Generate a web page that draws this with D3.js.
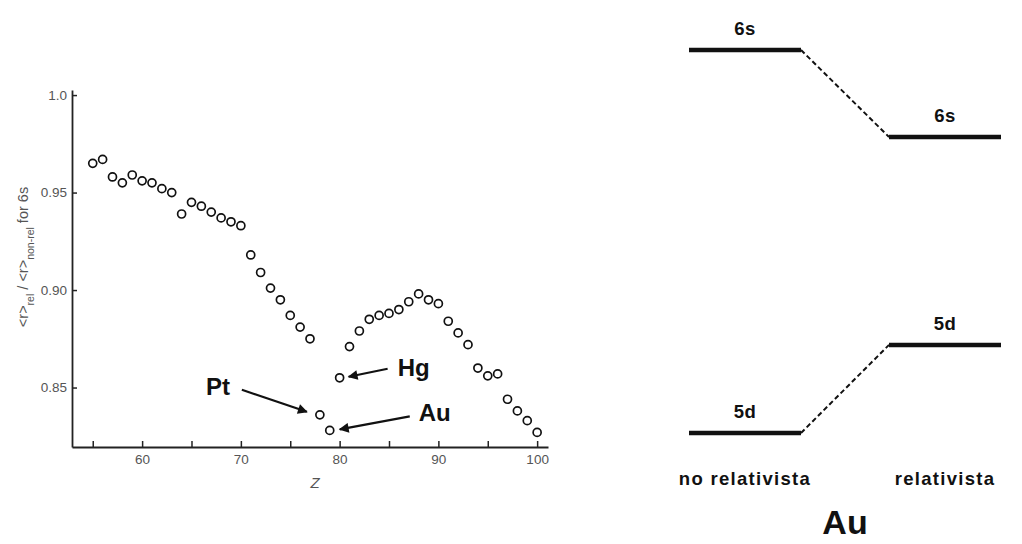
<!DOCTYPE html>
<html>
<head>
<meta charset="utf-8">
<script src="https://cdn.jsdelivr.net/npm/d3@7"></script>
<style>
  body { margin: 0; background: #fff; }
  svg { display: block; font-family: "Liberation Sans", Arial, Helvetica, sans-serif; }
</style>
</head>
<body>
<svg width="1022" height="544"></svg>
<script>
// atomic number Z (Cs .. Fm)
let zValues = [55, 56, 57, 58, 59, 60, 61, 62, 63, 64, 65, 66, 67, 68, 69, 70,
               71, 72, 73, 74, 75, 76, 77, 78, 79, 80, 81, 82, 83, 84, 85, 86,
               87, 88, 89, 90, 91, 92, 93, 94, 95, 96, 97, 98, 99, 100]
// <r>rel / <r>non-rel for the 6s orbital
let ratioValues = [0.965, 0.967, 0.958, 0.955, 0.959, 0.956, 0.955, 0.952, 0.950, 0.939,
                   0.945, 0.943, 0.940, 0.937, 0.935, 0.933, 0.918, 0.909, 0.901, 0.895,
                   0.887, 0.881, 0.875, 0.836, 0.828, 0.855, 0.871, 0.879, 0.885, 0.887,
                   0.888, 0.890, 0.894, 0.898, 0.895, 0.893, 0.884, 0.878, 0.872, 0.860,
                   0.856, 0.857, 0.844, 0.838, 0.833, 0.827]

let xMajorTicks = [60, 70, 80, 90, 100]
let xMinorTicks = [55, 65, 75, 85, 95]
let yTickValues = [0.85, 0.90, 0.95, 1.0]
let yTickLabels = ["0.85", "0.90", "0.95", "1.0"]

// labelled elements
let markedElements = ["Pt", "Au", "Hg"]
let markedZ = [78, 79, 80]

// energy level diagram for Au
let conditions = ["no relativista", "relativista"]
let orbitals = ["6s", "5d"]
let energyNonRel = [1.0, 0.0]
let energyRel = [0.773, 0.23]

let svg = d3.select("svg")

// ---- left chart ----
let xScale = d3.scaleLinear().domain([52.9, 101.1]).range([72, 548])
let yScale = d3.scaleLinear().domain([0.8195, 1.0026]).range([447, 90])

let axisColor = "#222"
let labelColor = "#555"

let xAxisMajor = d3.axisBottom(xScale)
  .tickValues(xMajorTicks)
  .tickSizeInner(-6)
  .tickSizeOuter(0)
  .tickPadding(7)
  .tickFormat(d3.format("d"))

let xAxisMinor = d3.axisBottom(xScale)
  .tickValues(xMinorTicks)
  .tickSizeInner(-6)
  .tickSizeOuter(0)
  .tickFormat("")

svg.append("g")
  .attr("transform", "translate(0," + yScale.range()[0] + ")")
  .call(xAxisMajor)
svg.append("g")
  .attr("transform", "translate(0," + yScale.range()[0] + ")")
  .call(xAxisMinor)
  .select(".domain").remove()

let yAxis = d3.axisLeft(yScale)
  .tickValues(yTickValues)
  .tickSizeInner(-5)
  .tickSizeOuter(0)
  .tickPadding(5)
  .tickFormat((d, i) => yTickLabels[i])

svg.append("g")
  .attr("transform", "translate(" + xScale.range()[0] + ",0)")
  .call(yAxis)

svg.selectAll(".domain").attr("stroke", axisColor).attr("stroke-width", 1.8)
svg.selectAll(".tick line").attr("stroke", axisColor).attr("stroke-width", 1.5)
svg.selectAll(".tick text")
  .attr("fill", labelColor)
  .style("font-size", "13.5px")
  .style("font-family", "'Liberation Sans', Arial, sans-serif")

// axis titles
svg.append("text")
  .attr("x", 315)
  .attr("y", 488)
  .attr("text-anchor", "middle")
  .attr("fill", labelColor)
  .style("font-size", "15px")
  .style("font-style", "italic")
  .text("Z")

let yTitle = svg.append("text")
  .attr("transform", "translate(28,257) rotate(-90)")
  .attr("text-anchor", "middle")
  .attr("fill", labelColor)
  .style("font-size", "14.5px")
yTitle.append("tspan").text("<r>")
yTitle.append("tspan").attr("baseline-shift", "sub").style("font-size", "10.5px").text("rel")
yTitle.append("tspan").text(" / <r>")
yTitle.append("tspan").attr("baseline-shift", "sub").style("font-size", "10.5px").text("non-rel")
yTitle.append("tspan").text(" for 6s")

// data points
svg.append("g")
  .selectAll("circle")
  .data(zValues)
  .enter()
  .append("circle")
  .attr("cx", (d) => xScale(d))
  .attr("cy", (d, i) => yScale(ratioValues[i]))
  .attr("r", 4)
  .attr("fill", "none")
  .attr("stroke", "#111")
  .attr("stroke-width", 1.7)

// arrows to marked elements
svg.append("defs").append("marker")
  .attr("id", "head")
  .attr("viewBox", "0 0 10 10")
  .attr("refX", 9)
  .attr("refY", 5)
  .attr("markerWidth", 5)
  .attr("markerHeight", 4.5)
  .attr("markerUnits", "strokeWidth")
  .attr("orient", "auto")
  .append("path")
  .attr("d", "M0,0 L10,5 L0,10 Z")
  .attr("fill", "#111")

// label placement relative to the point: [text dx, text dy, arrow start dx, dy, arrow end dx, dy]
let placement = {
  Pt: [-102, -20, -78, -25, -13, -3],
  Au: [105, -9, 80, -14, 10, -1],
  Hg: [74, -2, 48, -9, 9, -1]
}

let notes = svg.append("g")
markedElements.forEach((name, i) => {
  let z = markedZ[i]
  let px = xScale(z)
  let py = yScale(ratioValues[zValues.indexOf(z)])
  let p = placement[name]
  notes.append("line")
    .attr("x1", px + p[2]).attr("y1", py + p[3])
    .attr("x2", px + p[4]).attr("y2", py + p[5])
    .attr("stroke", "#111")
    .attr("stroke-width", 2.2)
    .attr("marker-end", "url(#head)")
  notes.append("text")
    .attr("x", px + p[0])
    .attr("y", py + p[1])
    .attr("text-anchor", "middle")
    .attr("fill", "#111")
    .style("font-size", "24px")
    .style("font-weight", "bold")
    .text(name)
})

// ---- right diagram: energy levels ----
let colScale = d3.scaleBand().domain(conditions).range([689, 1001]).paddingInner(0.44)
let eScale = d3.scaleLinear().domain([0, 1]).range([433, 50])

let diagram = svg.append("g")

orbitals.forEach((orb, i) => {
  let e = [energyNonRel[i], energyRel[i]]
  // dashed connector
  diagram.append("line")
    .attr("x1", colScale(conditions[0]) + colScale.bandwidth())
    .attr("y1", eScale(e[0]))
    .attr("x2", colScale(conditions[1]))
    .attr("y2", eScale(e[1]))
    .attr("stroke", "#111")
    .attr("stroke-width", 2)
    .attr("stroke-dasharray", "5,3")
  conditions.forEach((c, j) => {
    diagram.append("line")
      .attr("x1", colScale(c))
      .attr("x2", colScale(c) + colScale.bandwidth())
      .attr("y1", eScale(e[j]))
      .attr("y2", eScale(e[j]))
      .attr("stroke", "#111")
      .attr("stroke-width", 4.5)
    diagram.append("text")
      .attr("x", colScale(c) + colScale.bandwidth() / 2)
      .attr("y", eScale(e[j]) - 15)
      .attr("text-anchor", "middle")
      .attr("fill", "#111")
      .style("font-size", "18.5px")
      .style("font-weight", "bold")
      .style("letter-spacing", "0.5px")
      .text(orb)
  })
})

conditions.forEach((c) => {
  diagram.append("text")
    .attr("x", colScale(c) + colScale.bandwidth() / 2)
    .attr("y", 485)
    .attr("text-anchor", "middle")
    .attr("fill", "#111")
    .style("font-size", "18.5px")
    .style("font-weight", "bold")
    .style("letter-spacing", "1.3px")
    .text(c)
})

diagram.append("text")
  .attr("x", (colScale.range()[0] + colScale.range()[1]) / 2)
  .attr("y", 534)
  .attr("text-anchor", "middle")
  .attr("fill", "#111")
  .style("font-size", "34px")
  .style("font-weight", "bold")
  .text("Au")
</script>
</body>
</html>
